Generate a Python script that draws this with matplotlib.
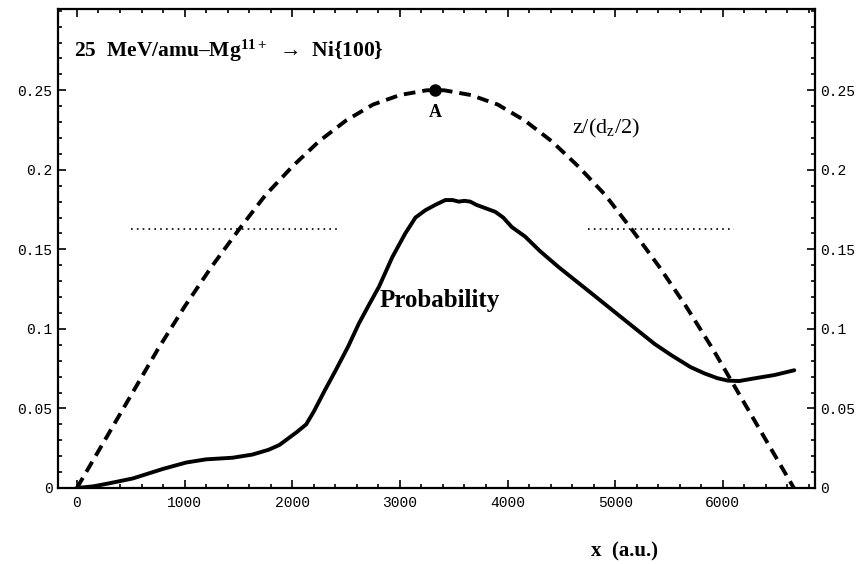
import matplotlib
matplotlib.use('Agg')
import matplotlib.pyplot as plt
from matplotlib.ticker import MultipleLocator, FixedLocator, FuncFormatter

plt.rcParams['mathtext.fontset'] = 'custom'
plt.rcParams['mathtext.rm'] = 'Liberation Serif'
plt.rcParams['mathtext.bf'] = 'Liberation Serif:bold'
plt.rcParams['mathtext.it'] = 'Liberation Serif:italic'

# dashed curve z/(dz/2)
zx = [0, 250, 500, 750, 1000, 1250, 1500, 1750, 2000, 2250, 2500, 2750, 3000, 3250, 3330,
      3410, 3660, 3910, 4160, 4410, 4660, 4910, 5160, 5410, 5660, 5910, 6160, 6410, 6660]
zy = [0, 0.029, 0.058, 0.087, 0.114, 0.139, 0.162, 0.184, 0.202, 0.218, 0.231, 0.241, 0.247, 0.250, 0.250,
      0.250, 0.247, 0.241, 0.231, 0.218, 0.202, 0.184, 0.162, 0.139, 0.114, 0.087, 0.058, 0.029, 0]

# probability curve
px = [0, 150, 305, 520, 800, 1015, 1200, 1445, 1630, 1780, 1880, 1960, 2040, 2130, 2200, 2300, 2404, 2520, 2620,
      2720, 2806, 2929, 3050, 3145, 3237, 3330, 3423, 3490, 3546, 3600, 3654, 3710, 3762, 3886, 3960, 4040, 4164, 4300, 4472,
      4781, 5090, 5367, 5521, 5700, 5830, 5950, 6046, 6150, 6293, 6480, 6664]
py = [0, 0.001, 0.003, 0.006, 0.012, 0.016, 0.018, 0.019, 0.021, 0.024, 0.027, 0.031, 0.035, 0.040, 0.048, 0.061, 0.074, 0.089, 0.1035,
      0.116, 0.1265, 0.145, 0.160, 0.170, 0.1746, 0.178, 0.181, 0.181, 0.180, 0.1805, 0.180, 0.178, 0.1767, 0.1736, 0.170, 0.164, 0.158, 0.149, 0.139,
      0.1223, 0.1055, 0.0905, 0.0835, 0.076, 0.072, 0.069, 0.0675, 0.0672, 0.0689, 0.071, 0.074]

# dotted reference segments
dot_left_x = [500, 2450]
dot_right_x = [4750, 6100]
dot_y = [0.163, 0.163]

peak_x = 3330
peak_y = 0.25

yticks = [0, 0.05, 0.1, 0.15, 0.2, 0.25]

fig = plt.figure(figsize=(8.63, 5.64), dpi=100)
ax = fig.add_axes([0.0672, 0.1348, 0.877, 0.849])

ax.plot(zx, zy, color='black', linewidth=2.8, linestyle=(0, (3, 1.8)))
ax.plot(px, py, color='black', linewidth=2.8, solid_capstyle='round', solid_joinstyle='round')
ax.plot(dot_left_x, dot_y, color='black', linewidth=1.2, linestyle=(0, (1, 2.5)))
ax.plot(dot_right_x, dot_y, color='black', linewidth=1.2, linestyle=(0, (1, 2.5)))
ax.plot([peak_x], [peak_y], 'o', color='black', markersize=8)

ax.set_xlim(-176, 6855)
ax.set_ylim(0, 0.301)

ax.xaxis.set_major_locator(MultipleLocator(1000))
ax.xaxis.set_minor_locator(MultipleLocator(200))
ax.yaxis.set_major_locator(FixedLocator(yticks))
ax.yaxis.set_minor_locator(MultipleLocator(0.01))

def yfmt(v, pos):
    if abs(v) < 1e-9:
        return '0'
    return ('%.2f' % v).rstrip('0')

ax.yaxis.set_major_formatter(FuncFormatter(yfmt))

ax.tick_params(which='both', direction='in', top=True, right=True, labelright=True, width=1.2)
ax.tick_params(which='major', length=6)
ax.tick_params(which='minor', length=3)
for lab in ax.get_xticklabels() + ax.get_yticklabels():
    lab.set_fontfamily('Liberation Mono')
    lab.set_fontsize(10.5)
for t in ax.yaxis.get_major_ticks():
    t.label2.set_fontfamily('Liberation Mono')
    t.label2.set_fontsize(10.5)
ax.tick_params(axis='y', which='major', pad=4)
ax.tick_params(axis='x', which='major', pad=6)
for s in ax.spines.values():
    s.set_linewidth(1.6)

ax.text(-25, 0.275, '25  MeV/amu\u2013Mg$^{\\mathbf{11+}}$  \u2192  Ni{100}',
        fontfamily=['Liberation Serif', 'DejaVu Serif'],
        fontweight='bold', fontsize=15.5, va='center', ha='left')
ax.text(peak_x, 0.236, 'A', fontfamily='Liberation Serif', fontweight='bold', fontsize=13, ha='center', va='center')
ax.text(4600, 0.226, r'z/(d$_\mathregular{z}$/2)', fontfamily='Liberation Serif', fontsize=16, ha='left', va='center')
ax.text(2814, 0.118, 'Probability', fontfamily='Liberation Serif', fontweight='bold', fontsize=18, ha='left', va='center')
ax.text(5090, -0.04, 'x  (a.u.)', fontfamily='Liberation Serif', fontweight='bold', fontsize=15, ha='center', va='center')

fig.savefig('out.png', dpi=100)
